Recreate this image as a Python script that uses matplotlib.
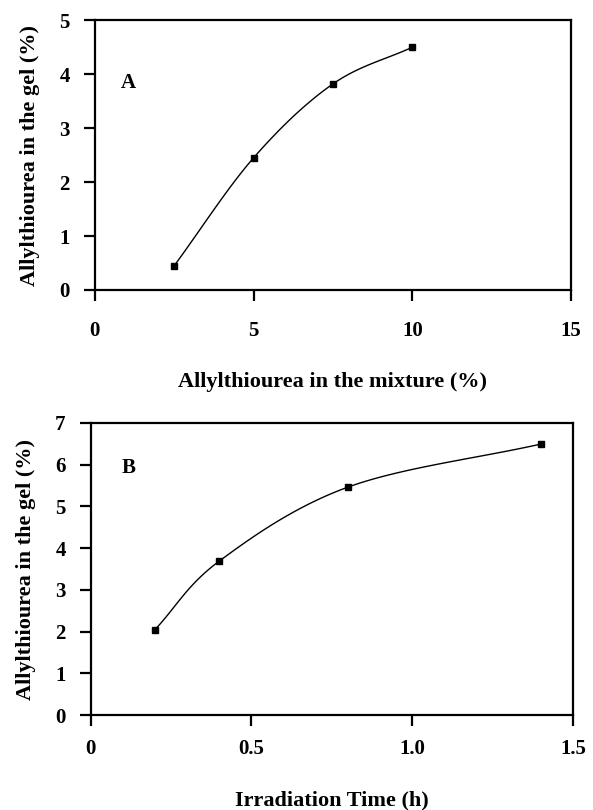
import numpy as np
import matplotlib
matplotlib.use("Agg")
import matplotlib.pyplot as plt

plt.rcParams['font.family'] = ['Liberation Serif', 'DejaVu Serif']
plt.rcParams['font.weight'] = 'bold'

# Panel A data
a_x = [2.5, 5.0, 7.5, 10.0]
a_y = [0.45, 2.45, 3.82, 4.5]
a_xticks = [0, 5, 10, 15]
a_yticks = [0, 1, 2, 3, 4, 5]

# Panel B data
b_x = [0.2, 0.4, 0.8, 1.4]
b_y = [2.05, 3.69, 5.46, 6.49]
b_xticks = [0, 0.5, 1.0, 1.5]
b_xticklabels = ['0', '0.5', '1.0', '1.5']
b_yticks = [0, 1, 2, 3, 4, 5, 6, 7]


def smooth(xs, ys, n=40):
    # Catmull-Rom style smoothing through the data points (spreadsheet "smoothed line")
    xs = np.asarray(xs, float); ys = np.asarray(ys, float)
    P = np.column_stack([xs, ys])
    P = np.vstack([2 * P[0] - P[1], P, 2 * P[-1] - P[-2]])
    out = []
    for i in range(1, len(P) - 2):
        p0, p1, p2, p3 = P[i - 1], P[i], P[i + 1], P[i + 2]
        t = np.linspace(0, 1, n)[:, None]
        c1 = p1 + (p2 - p0) / 6.0
        c2 = p2 - (p3 - p1) / 6.0
        seg = ((1 - t) ** 3) * p1 + 3 * ((1 - t) ** 2) * t * c1 + 3 * (1 - t) * t ** 2 * c2 + t ** 3 * p2
        out.append(seg)
    out = np.vstack(out)
    return out[:, 0], out[:, 1]


fig = plt.figure(figsize=(5.93, 8.10), dpi=100)

axA = fig.add_axes([0.160, 0.642, 0.803, 0.333])
axB = fig.add_axes([0.153, 0.117, 0.813, 0.361])

def style(ax, xpad):
    for s in ax.spines.values():
        s.set_linewidth(1.6)
        s.set_color('black')
    ax.tick_params(axis='x', direction='out', length=8, width=1.6, pad=xpad, labelsize=15,
                   top=False)
    ax.tick_params(axis='y', direction='out', length=8, width=1.6, pad=10, labelsize=15,
                   right=False)
    for lab in ax.get_xticklabels() + ax.get_yticklabels():
        lab.set_fontweight('bold')

# Panel A
sx, sy = smooth(a_x, a_y)
axA.plot(sx, sy, color='black', lw=1.0)
axA.plot(a_x, a_y, 's', color='black', markersize=5)
axA.set_xlim(0, 15)
axA.set_ylim(0, 5)
axA.set_xticks(a_xticks)
axA.set_yticks(a_yticks)
style(axA, 14)
axA.text(1.05, 3.83, 'A', fontsize=15, fontweight='bold', va='center', ha='center')
axA.set_xlabel('Allylthiourea in the mixture (%)', fontsize=16, fontweight='bold', labelpad=23)
axA.set_ylabel('Allylthiourea in the gel (%)', fontsize=16, fontweight='bold', labelpad=14)

# Panel B
sx, sy = smooth(b_x, b_y)
axB.plot(sx, sy, color='black', lw=1.0)
axB.plot(b_x, b_y, 's', color='black', markersize=5)
axB.set_xlim(0, 1.5)
axB.set_ylim(0, 7)
axB.set_xticks(b_xticks)
axB.set_xticklabels(b_xticklabels)
axB.set_yticks(b_yticks)
style(axB, 9)
axB.text(0.118, 5.92, 'B', fontsize=15, fontweight='bold', va='center', ha='center')
axB.set_xlabel('Irradiation Time (h)', fontsize=16, fontweight='bold', labelpad=23)
axB.set_ylabel('Allylthiourea in the gel (%)', fontsize=16, fontweight='bold', labelpad=14)

fig.savefig('out.png', dpi=100)
